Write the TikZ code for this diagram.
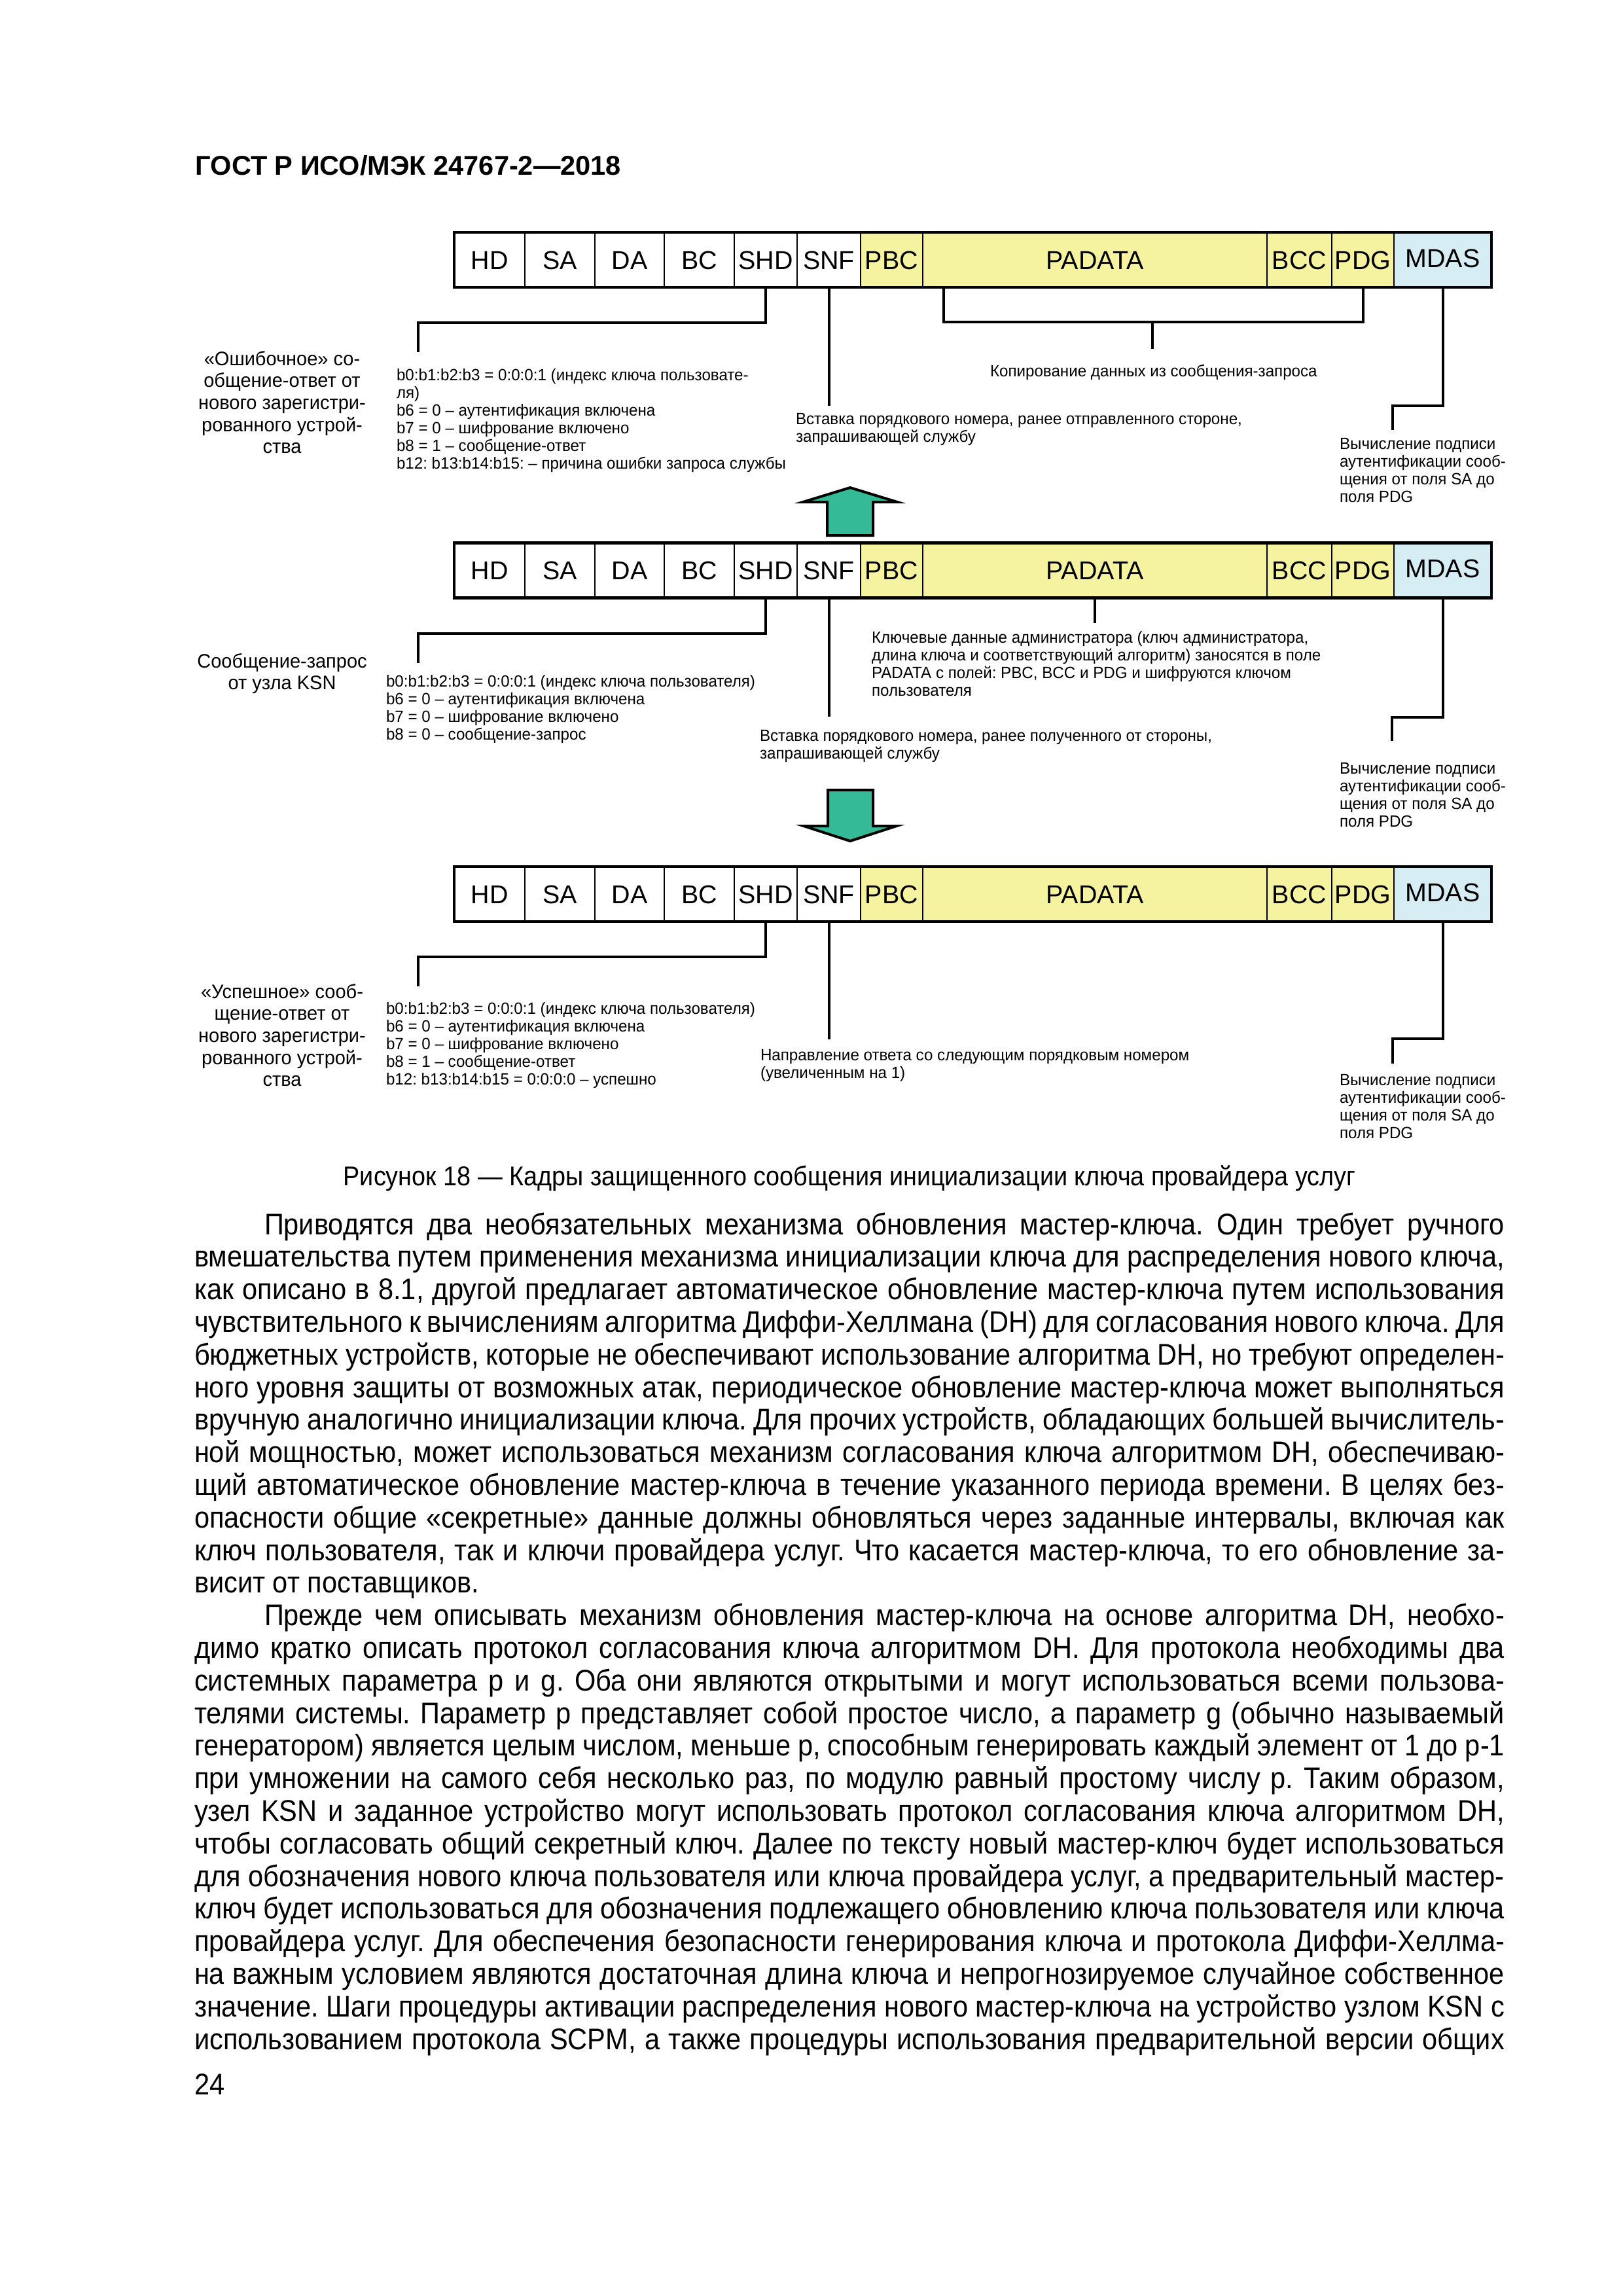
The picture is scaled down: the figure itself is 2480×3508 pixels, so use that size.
\documentclass[tikz,border=0pt]{standalone}
\usepackage{fontspec}
\setmainfont{Liberation Sans}
\newfontfamily\bodyfont{Liberation Sans}[FakeStretch=0.91]
\newfontfamily\annfont{Liberation Sans}[FakeStretch=0.97]
\newlength\pxu
\setlength\pxu{0.0846667mm}
\definecolor{fldyellow}{RGB}{246,243,160}
\definecolor{fldblue}{RGB}{214,237,244}
\definecolor{arrgreen}{RGB}{52,186,150}
\newcommand\myT[2]{\vtop{\baselineskip=#1\pxu\lineskiplimit=-\maxdimen\lineskip=0pt #2}}
\newcommand\myL[1]{\hbox{#1}}
\newcommand\myC[1]{\hbox to 0pt{\hss#1\hss}}
\newcommand\myJ[1]{\hbox to 2002\pxu{#1}}
\newcommand\myE[1]{\hbox to 2002\pxu{#1\hfil}}
\newcommand\myframe[2]{%
 \node[fld, minimum width=108\pxu] (#1hd) at (748,#2) {HD};
 \node[fld, minimum width=107\pxu] (#1sa) at (855.5,#2) {SA};
 \node[fld, minimum width=106\pxu] (#1da) at (962,#2) {DA};
 \node[fld, minimum width=107\pxu] (#1bc) at (1068.5,#2) {BC};
 \node[fld, minimum width=96\pxu] (#1shd) at (1170,#2) {SHD};
 \node[fld, minimum width=97\pxu] (#1snf) at (1266.5,#2) {SNF};
 \node[fld, fill=fldyellow, minimum width=95\pxu] (#1pbc) at (1362.5,#2) {PBC};
 \node[fld, fill=fldyellow, minimum width=526\pxu] (#1padata) at (1673,#2) {PADATA};
 \node[fld, fill=fldyellow, minimum width=99\pxu] (#1bcc) at (1985.5,#2) {BCC};
 \node[fld, fill=fldyellow, minimum width=95\pxu] (#1pdg) at (2082.5,#2) {PDG};
 \node[fld, fill=fldblue, minimum width=149\pxu, text depth=1.45pt] (#1mdas) at (2204.5,#2) {MDAS};
 \draw[line width=4.5\pxu] (#1hd.north west) rectangle (#1mdas.south east);
}
\begin{document}
\frenchspacing
\begin{tikzpicture}[x=0.0846667mm, y=-0.0846667mm,
  fld/.style={draw, line width=2.6\pxu, fill=white, inner sep=0pt, outer sep=0pt,
    minimum height=84\pxu, text height=6.8pt, text depth=0pt,
    font=\fontsize{9.5pt}{11pt}\selectfont},
  conn/.style={line width=4\pxu},
  txt/.style={inner sep=0pt, outer sep=0pt, anchor=base west, font=\annfont\fontsize{6pt}{7pt}\selectfont},
  lbl/.style={inner sep=0pt, outer sep=0pt, anchor=base, font=\annfont\fontsize{7.2pt}{8.5pt}\selectfont},
  garrow/.style={fill=arrgreen, draw=black, line width=4\pxu, line join=miter},
  bodytxt/.style={inner sep=0pt, outer sep=0pt, anchor=base west, font=\bodyfont\fontsize{11pt}{13pt}\selectfont}]
\fill[white] (0,0) rectangle (2480,3508);
\useasboundingbox (0,0) rectangle (2480,3508);

% header
\node[inner sep=0pt, anchor=base west, font=\bfseries\fontsize{10pt}{12pt}\selectfont] (hdr) at (298,267) {ГОСТ Р ИСО/МЭК 24767-2—2018};

% ---------- frame 1 ----------
\myframe{a}{397}
\coordinate (ashdend) at (639,538);
\coordinate (asnfend) at (1266.5,620);
\coordinate (abl) at ([xshift=32\pxu]apadata.south west);
\coordinate (abm) at (1761,492);
\coordinate (abe) at (1761,533);
\coordinate (amdend) at (2128,657);
\draw[conn] (ashd.south) -- ++(0,54) -| (ashdend);
\draw[conn] (asnf.south) -- (asnfend);
\draw[conn] (abl) -- ++(0,53) -| (apdg.south);
\draw[conn] (abm) -- (abe);
\draw[conn] (amdas.south) -- ++(0,181) -| (amdend);

\node[lbl] (alab) at (431,558) {\myT{33.7}{\myC{«Ошибочное» со-}\myC{общение-ответ от}\myC{нового зарегистри-}\myC{рованного устрой-}\myC{ства}}};
\node[txt] (abits) at (606,581) {\myT{27}{\myL{b0:b1:b2:b3 = 0:0:0:1 (индекс ключа пользовате-}\myL{ля)}\myL{b6 = 0 – аутентификация включена}\myL{b7 = 0 – шифрование включено}\myL{b8 = 1 – сообщение-ответ}\myL{b12: b13:b14:b15: – причина ошибки запроса службы}}};
\node[txt] (acopy) at (1513,575) {Копирование данных из сообщения-запроса};
\node[txt] (ains) at (1216,648) {\myT{27}{\myL{Вставка порядкового номера, ранее отправленного стороне,}\myL{запрашивающей службу}}};
\node[txt] (amac) at (2047,686) {\myT{27}{\myL{Вычисление подписи}\myL{аутентификации сооб-}\myL{щения от поля SA до}\myL{поля PDG}}};

% up arrow
\draw[garrow] (1264,818) -- (1264,767) -- (1227,767) -- (1299,745) -- (1371,767) -- (1334,767) -- (1334,818) -- cycle;

% ---------- frame 2 ----------
\myframe{b}{871.5}
\coordinate (bshdend) at (639,1013);
\coordinate (bsnfend) at (1266.5,1095);
\coordinate (bpadend) at (1673,952);
\coordinate (bmdend) at (2127,1132);
\draw[conn] (bshd.south) -- ++(0,54) -| (bshdend);
\draw[conn] (bsnf.south) -- (bsnfend);
\draw[conn] (bpadata.south) -- (bpadend);
\draw[conn] (bmdas.south) -- ++(0,182) -| (bmdend);

\node[lbl] (blab) at (431,1020) {\myT{33.7}{\myC{Сообщение-запрос}\myC{от узла KSN}}};
\node[txt] (bbits) at (590,1049) {\myT{27}{\myL{b0:b1:b2:b3 = 0:0:0:1 (индекс ключа пользователя)}\myL{b6 = 0 – аутентификация включена}\myL{b7 = 0 – шифрование включено}\myL{b8 = 0 – сообщение-запрос}}};
\node[txt] (bkey) at (1332,982) {\myT{27}{\myL{Ключевые данные администратора (ключ администратора,}\myL{длина ключа и соответствующий алгоритм) заносятся в поле}\myL{PADATA с полей: PBC, BCC и PDG и шифруются ключом}\myL{пользователя}}};
\node[txt] (bins) at (1161,1132) {\myT{27}{\myL{Вставка порядкового номера, ранее полученного от стороны,}\myL{запрашивающей службу}}};
\node[txt] (bmac) at (2047,1182) {\myT{27}{\myL{Вычисление подписи}\myL{аутентификации сооб-}\myL{щения от поля SA до}\myL{поля PDG}}};

% down arrow
\draw[garrow] (1265,1207) -- (1334,1207) -- (1334,1262) -- (1370,1262) -- (1299,1285) -- (1228,1262) -- (1265,1262) -- cycle;

% ---------- frame 3 ----------
\myframe{c}{1366}
\coordinate (cshdend) at (639,1507);
\coordinate (csnfend) at (1266.5,1588);
\coordinate (cmdend) at (2128,1625);
\draw[conn] (cshd.south) -- ++(0,54) -| (cshdend);
\draw[conn] (csnf.south) -- (csnfend);
\draw[conn] (cmdas.south) -- ++(0,179) -| (cmdend);

\node[lbl] (clab) at (431,1525) {\myT{33.7}{\myC{«Успешное» сооб-}\myC{щение-ответ от}\myC{нового зарегистри-}\myC{рованного устрой-}\myC{ства}}};
\node[txt] (cbits) at (590,1549) {\myT{27}{\myL{b0:b1:b2:b3 = 0:0:0:1 (индекс ключа пользователя)}\myL{b6 = 0 – аутентификация включена}\myL{b7 = 0 – шифрование включено}\myL{b8 = 1 – сообщение-ответ}\myL{b12: b13:b14:b15 = 0:0:0:0 – успешно}}};
\node[txt] (cdir) at (1162,1620) {\myT{27}{\myL{Направление ответа со следующим порядковым номером}\myL{(увеличенным на 1)}}};
\node[txt] (cmac) at (2047,1658) {\myT{27}{\myL{Вычисление подписи}\myL{аутентификации сооб-}\myL{щения от поля SA до}\myL{поля PDG}}};

% caption
\node[inner sep=0pt, anchor=base, font=\bodyfont\fontsize{10pt}{12pt}\selectfont] (cap) at (1298,1811) {Рисунок 18 — Кадры защищенного сообщения инициализации ключа провайдера услуг};

% body text
\node[bodytxt] (body) at (297,1886) {\myT{49.8}{%
\myJ{\hspace*{107\pxu}Приводятся два необязательных механизма обновления мастер-ключа. Один требует ручного}%
\myJ{вмешательства путем применения механизма инициализации ключа для распределения нового ключа,}%
\myJ{как описано в 8.1, другой предлагает автоматическое обновление мастер-ключа путем использования}%
\myJ{чувствительного к вычислениям алгоритма Диффи-Хеллмана (DH) для согласования нового ключа. Для}%
\myJ{бюджетных устройств, которые не обеспечивают использование алгоритма DH, но требуют определен-}%
\myJ{ного уровня защиты от возможных атак, периодическое обновление мастер-ключа может выполняться}%
\myJ{вручную аналогично инициализации ключа. Для прочих устройств, обладающих большей вычислитель-}%
\myJ{ной мощностью, может использоваться механизм согласования ключа алгоритмом DH, обеспечиваю-}%
\myJ{щий автоматическое обновление мастер-ключа в течение указанного периода времени. В целях без-}%
\myJ{опасности общие «секретные» данные должны обновляться через заданные интервалы, включая как}%
\myJ{ключ пользователя, так и ключи провайдера услуг. Что касается мастер-ключа, то его обновление за-}%
\myE{висит от поставщиков.}%
\myJ{\hspace*{107\pxu}Прежде чем описывать механизм обновления мастер-ключа на основе алгоритма DH, необхо-}%
\myJ{димо кратко описать протокол согласования ключа алгоритмом DH. Для протокола необходимы два}%
\myJ{системных параметра p и g. Оба они являются открытыми и могут использоваться всеми пользова-}%
\myJ{телями системы. Параметр p представляет собой простое число, а параметр g (обычно называемый}%
\myJ{генератором) является целым числом, меньше p, способным генерировать каждый элемент от 1 до p-1}%
\myJ{при умножении на самого себя несколько раз, по модулю равный простому числу p. Таким образом,}%
\myJ{узел KSN и заданное устройство могут использовать протокол согласования ключа алгоритмом DH,}%
\myJ{чтобы согласовать общий секретный ключ. Далее по тексту новый мастер-ключ будет использоваться}%
\myJ{для обозначения нового ключа пользователя или ключа провайдера услуг, а предварительный мастер-}%
\myJ{ключ будет использоваться для обозначения подлежащего обновлению ключа пользователя или ключа}%
\myJ{провайдера услуг. Для обеспечения безопасности генерирования ключа и протокола Диффи-Хеллма-}%
\myJ{на важным условием являются достаточная длина ключа и непрогнозируемое случайное собственное}%
\myJ{значение. Шаги процедуры активации распределения нового мастер-ключа на устройство узлом KSN с}%
\myJ{использованием протокола SCPM, а также процедуры использования предварительной версии общих}}};

% page number
\node[bodytxt] (pgnum) at (297,3200) {24};
\end{tikzpicture}
\end{document}
